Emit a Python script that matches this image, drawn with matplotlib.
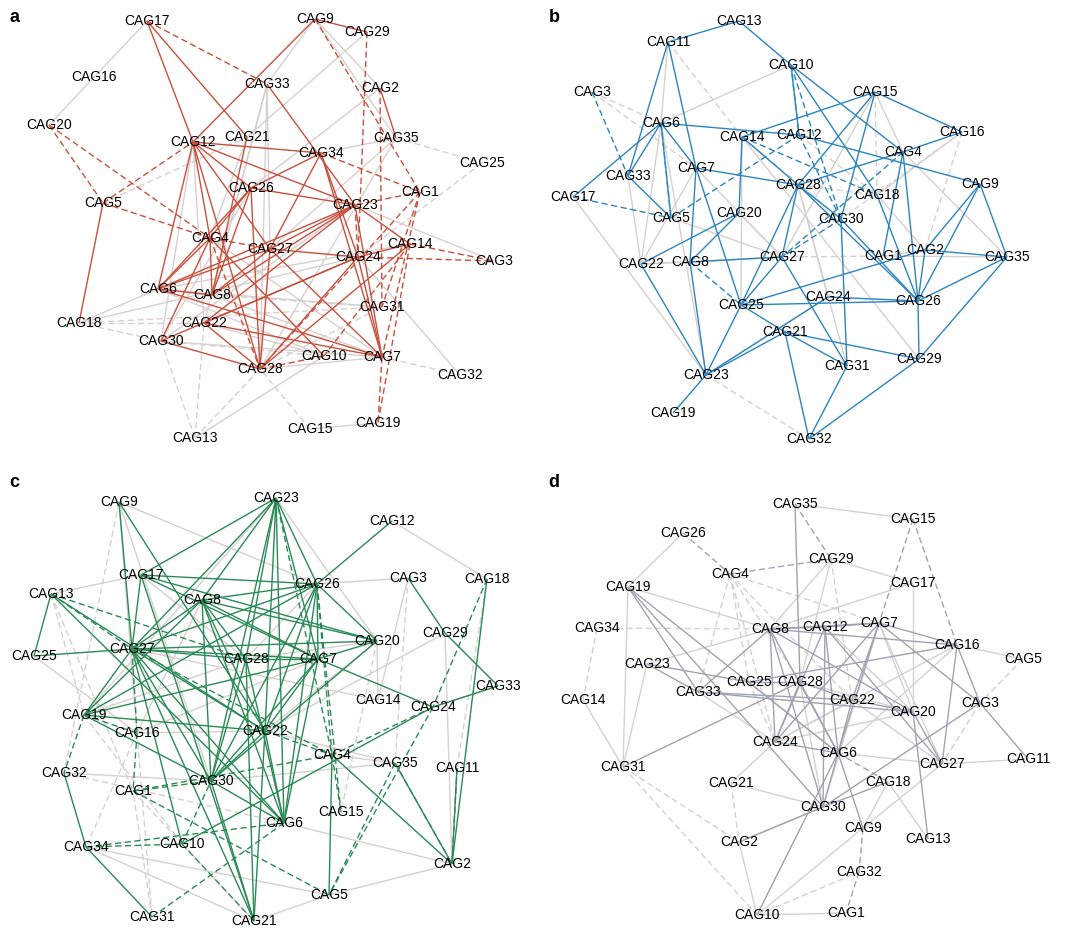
import matplotlib
matplotlib.use('Agg')
import matplotlib.pyplot as plt
from matplotlib.collections import LineCollection

plt.rcParams['font.family'] = ['Liberation Sans', 'DejaVu Sans']

# node layouts (pixel coordinates of label centres)
pos_a = {17: (147, 21), 9: (315, 19), 29: (367, 32), 16: (94, 77), 33: (267, 84),
         2: (380, 88), 20: (49, 125), 12: (193, 142), 21: (247, 137), 35: (396, 138),
         34: (321, 153), 25: (482, 163), 26: (251, 188), 1: (420, 192), 5: (103, 203),
         23: (355, 205), 4: (210, 238), 27: (270, 249), 14: (410, 244), 24: (358, 257),
         3: (494, 261), 6: (158, 289), 8: (212, 295), 31: (382, 307), 18: (79, 323),
         22: (204, 323), 30: (161, 341), 10: (324, 356), 7: (382, 357), 28: (260, 369),
         32: (460, 375), 19: (378, 423), 15: (310, 429), 13: (195, 438)}

pos_b = {13: (739, 21), 11: (668, 42), 10: (791, 65), 3: (592, 92), 15: (875, 92),
         6: (661, 123), 14: (742, 137), 12: (799, 135), 16: (962, 132), 4: (903, 152),
         7: (696, 168), 33: (628, 176), 28: (798, 185), 9: (980, 184), 17: (573, 197),
         18: (877, 195), 5: (671, 218), 20: (739, 213), 30: (841, 219), 8: (690, 262),
         22: (641, 264), 27: (782, 257), 1: (883, 256), 2: (925, 250), 35: (1007, 257),
         24: (828, 297), 26: (918, 301), 25: (741, 305), 21: (785, 332), 29: (919, 359),
         31: (847, 366), 23: (706, 375), 19: (673, 413), 32: (809, 439)}

pos_c = {9: (119, 502), 23: (276, 498), 12: (392, 521), 17: (141, 575), 26: (317, 584),
         3: (408, 578), 18: (487, 579), 13: (51, 594), 8: (202, 600), 29: (445, 633),
         20: (377, 641), 25: (34, 656), 27: (132, 649), 28: (246, 659), 7: (318, 659),
         33: (498, 686), 14: (378, 700), 24: (433, 707), 19: (84, 715), 16: (137, 733),
         22: (265, 731), 4: (332, 755), 35: (395, 763), 11: (457, 768), 32: (64, 773),
         30: (211, 781), 1: (133, 791), 15: (341, 812), 6: (284, 823), 10: (182, 844),
         34: (86, 847), 2: (452, 864), 5: (329, 895), 31: (152, 917), 21: (254, 921)}

pos_d = {35: (795, 504), 15: (913, 519), 26: (683, 533), 29: (831, 559), 4: (730, 574),
         19: (628, 587), 17: (913, 583), 34: (597, 628), 8: (770, 629), 12: (825, 627),
         7: (879, 623), 16: (957, 645), 5: (1023, 659), 23: (647, 664), 25: (749, 682),
         28: (800, 682), 33: (698, 692), 14: (583, 700), 22: (852, 700), 3: (980, 703),
         20: (913, 712), 24: (775, 742), 6: (838, 753), 27: (942, 764), 11: (1028, 759),
         31: (623, 767), 21: (731, 783), 18: (888, 782), 30: (823, 807), 9: (863, 828),
         13: (928, 839), 2: (739, 842), 32: (859, 872), 10: (757, 915), 1: (846, 913)}

# edges: "u-v" pairs of CAG numbers
a_solid = ("17-12 17-21 12-9 9-29 12-34 12-6 12-4 12-26 12-27 12-23 12-28 21-8 33-23 "
           "34-26 34-27 34-7 34-24 26-23 26-4 26-8 26-28 26-6 2-35 23-14 23-27 23-22 "
           "23-6 23-8 23-7 5-18 27-24 27-6 27-8 27-28 27-7 4-10 4-30 4-8 4-6 24-28 24-7 "
           "14-28 14-24 6-7 6-8 22-7 22-28 22-24 30-28 24-30")
a_dash = ("17-33 20-5 20-4 5-12 5-4 9-1 29-24 2-31 34-1 1-23 1-7 1-28 1-31 14-3 24-3 "
          "14-10 14-19 4-28 4-27 28-10 7-19 23-24")
a_gray = ("17-20 9-33 9-2 9-35 29-21 2-26 35-34 35-27 35-28 33-27 33-28 33-22 18-24 "
          "18-6 7-28 15-19 13-10 24-32 23-3 6-31 6-10 12-30 12-22 21-4 26-30 23-30 "
          "22-10 8-7 4-7 30-7 14-6 33-8")
a_gdash = "35-25 25-24 18-31 18-22 18-30 13-30 13-28 13-22 15-28 7-32 5-21 8-31 30-10 28-31"

b_solid = ("13-11 13-10 11-33 11-7 10-12 10-4 10-18 6-12 12-9 6-17 6-33 6-5 6-7 33-5 "
           "15-14 15-16 15-28 15-30 16-4 14-20 14-28 7-28 7-8 7-25 4-28 4-1 4-26 9-2 "
           "9-26 9-35 28-30 28-26 28-25 20-22 20-8 27-8 27-25 27-31 2-25 2-35 2-26 "
           "35-26 35-29 30-31 30-26 25-26 24-26 24-23 25-21 25-23 22-23 8-23 21-23 "
           "21-31 21-29 21-32 31-32 29-32 29-26 23-19 18-26 28-27")
b_dash = "3-33 17-5 12-5 10-12 12-30 14-18 4-27 30-27 8-25 6-5 10-30"
b_gray = ("10-6 11-6 17-23 6-22 6-23 7-22 7-27 22-27 28-31 1-2 15-27 14-29 23-24 5-27 "
          "33-22 20-27 28-24 16-18 4-35 1-35 8-27 22-8 15-4 14-25 2-18")
b_gdash = "11-14 3-7 27-1 15-18 16-2 16-30 23-32 12-18 14-30 28-18 3-6"

c_solid = ("9-27 9-22 23-17 23-27 23-8 23-28 23-22 23-26 23-30 23-7 23-6 12-26 17-26 "
           "17-7 17-20 17-27 13-25 13-22 13-6 26-8 26-27 26-20 26-22 26-30 26-6 26-19 "
           "26-7 3-29 29-33 18-2 8-27 8-7 8-30 8-22 8-6 8-28 8-20 8-19 27-25 27-28 "
           "27-7 27-20 27-30 27-22 27-6 27-21 27-10 27-19 28-7 28-30 28-6 28-21 7-20 "
           "7-24 7-19 7-30 7-22 7-6 20-30 24-33 24-10 19-22 19-30 22-30 22-6 22-21 "
           "30-6 30-21 4-5 4-2 35-2 11-2 32-34 34-31 17-21")
c_dash = ("13-27 13-28 18-24 26-4 26-15 23-4 27-4 19-32 16-1 1-30 1-4 34-10 34-6 "
          "10-30 22-4 24-4 24-5 35-5 4-15 1-5 10-21 6-31 11-2 35-2 19-16 27-16")
c_gray = ("9-26 9-16 17-13 26-3 12-18 3-14 29-22 20-14 25-16 32-30 34-5 34-21 6-2 "
          "5-2 5-21 22-35 23-20 33-24 30-35 29-2 9-30 17-28 23-19 26-28 8-16 20-22 "
          "27-14 28-20 7-16 19-28 4-35 16-22")
c_gdash = "9-32 13-1 18-11 3-35 19-10 16-31 31-1 20-15 13-19 32-6 1-21 16-34"

d_solid = ("35-28 19-33 19-30 8-12 8-7 8-16 8-33 8-24 8-6 8-30 8-20 12-7 12-24 12-6 "
           "12-27 7-16 7-22 7-6 7-24 7-3 16-25 16-27 16-3 3-11 23-25 23-33 33-22 "
           "33-20 25-28 28-24 28-6 28-22 22-20 22-6 20-27 20-13 24-6 6-30 6-9 6-10 "
           "30-2 30-18 3-30 31-28 12-30 19-6")
d_dash = "35-29 26-4 4-29 15-7 15-16 9-32 32-1 6-18"
d_gray = ("35-15 26-19 29-17 29-8 29-28 17-8 17-20 19-8 19-31 16-5 8-23 14-31 10-1 "
          "10-2 10-9 21-30 21-24 2-30 18-13 18-9 27-11 6-27 9-27 7-27 7-20 22-27 "
          "28-20 24-20 16-24 16-6 23-31 25-6 28-30 22-24 12-20 7-30 33-24")
d_gdash = "34-8 34-14 4-33 4-25 4-28 4-7 4-22 4-24 29-22 31-2 31-10 21-2 10-32 3-27 5-3 25-24"

panels = [
    ('a', pos_a, a_solid, a_dash, a_gray, a_gdash, '#c9503c', (0, 540, 465.5, 0)),
    ('b', pos_b, b_solid, b_dash, b_gray, b_gdash, '#2b85c0', (540, 1080, 465.5, 0)),
    ('c', pos_c, c_solid, c_dash, c_gray, c_gdash, '#2a8a56', (0, 540, 931, 465.5)),
    ('d', pos_d, d_solid, d_dash, d_gray, d_gdash, '#a0a3b3', (540, 1080, 931, 465.5)),
]
rects = {'a': [0, 0.5, 0.5, 0.5], 'b': [0.5, 0.5, 0.5, 0.5],
         'c': [0, 0, 0.5, 0.5], 'd': [0.5, 0, 0.5, 0.5]}

GRAY = '#d8d0ce'
DASH = (0, (4.5, 2.5))


def segs(pos, edges):
    out = []
    for e in edges.split():
        u, v = e.split('-')
        out.append([pos[int(u)], pos[int(v)]])
    return out


fig = plt.figure(figsize=(10.8, 9.31), dpi=100)

for name, pos, solid, dash, gray, gdash, col, lims in panels:
    ax = fig.add_axes(rects[name])
    ax.set_xlim(lims[0], lims[1])
    ax.set_ylim(lims[2], lims[3])
    ax.axis('off')

    ax.add_collection(LineCollection(segs(pos, gdash), colors=GRAY, linewidths=1.0,
                                     linestyles=[DASH], zorder=1))
    ax.add_collection(LineCollection(segs(pos, gray), colors=GRAY, linewidths=1.0, zorder=1))
    ax.add_collection(LineCollection(segs(pos, dash), colors=col, linewidths=1.0,
                                     linestyles=[DASH], zorder=2))
    ax.add_collection(LineCollection(segs(pos, solid), colors=col, linewidths=1.0, zorder=3))

    for k, (x, y) in pos.items():
        ax.text(x, y, 'CAG%d' % k, ha='center', va='center', fontsize=10,
                color='black', zorder=5)

    ax.text(lims[0] + 14, lims[3] + 17, name, ha='center', va='center',
            fontsize=13, fontweight='bold', color='black')

fig.savefig('out.png', dpi=100)
